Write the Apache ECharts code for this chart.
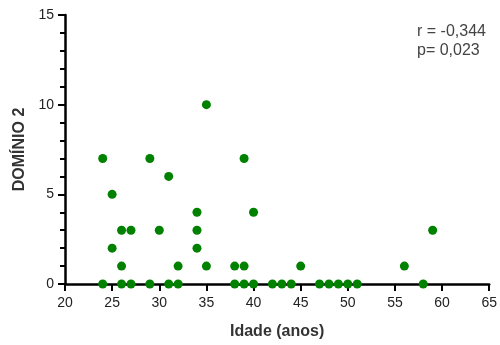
<!DOCTYPE html>
<html>
<head>
<meta charset="utf-8">
<script src="https://cdn.jsdelivr.net/npm/echarts@6/dist/echarts.min.js"></script>
<style>
  html, body { margin: 0; padding: 0; background: #fff; }
  #chart { width: 500px; height: 345px; }
</style>
</head>
<body>
<div id="chart"></div>
<script>
// idade (anos) vs DOMÍNIO 2
const ages = [24, 24, 25, 25, 26, 26, 26, 27, 27, 29, 29, 30, 31, 31, 32, 32,
  34, 34, 34, 35, 35, 38, 38, 39, 39, 39, 40, 40, 42, 43, 44, 45, 47, 48, 49,
  50, 51, 56, 58, 59]
const scores = [7, 0, 5, 2, 3, 1, 0, 3, 0, 7, 0, 3, 6, 0, 1, 0,
  4, 3, 2, 10, 1, 1, 0, 7, 1, 0, 4, 0, 0, 0, 0, 1, 0, 0, 0,
  0, 0, 1, 0, 3]
const xTicks = [20, 25, 30, 35, 40, 45, 50, 55, 60, 65]
const yTicks = [0, 5, 10, 15]
const stats = ['r = -0,344', 'p= 0,023']

const points = ages.map((a, i) => [a, scores[i]])
const chart = echarts.init(document.getElementById('chart'))
const font = 'Liberation Sans, Arial, sans-serif'
const axisStroke = { color: '#000', width: 2.5 }

chart.setOption({
  animation: false,
  grid: { left: 65, right: 7, top: 15, bottom: 58 },
  xAxis: {
    type: 'value',
    min: xTicks[0],
    max: xTicks[xTicks.length - 1],
    interval: 5,
    name: 'Idade (anos)',
    nameLocation: 'middle',
    nameGap: 40,
    nameTextStyle: { color: '#333', fontSize: 16, fontWeight: 'bold', fontFamily: font },
    axisLine: { show: true, lineStyle: axisStroke },
    axisTick: { show: true, length: 7, lineStyle: { color: '#000', width: 2 } },
    axisLabel: { color: '#222', fontSize: 14, fontFamily: font, margin: 12 },
    splitLine: { show: false },
  },
  yAxis: {
    type: 'value',
    min: yTicks[0],
    max: yTicks[yTicks.length - 1],
    interval: 5,
    name: 'DOMÍNIO 2',
    nameLocation: 'middle',
    nameGap: 36,
    nameTextStyle: { color: '#333', fontSize: 16, fontWeight: 'bold', fontFamily: font },
    axisLine: { show: true, lineStyle: axisStroke },
    axisTick: { show: true, length: 7, lineStyle: { color: '#000', width: 2 } },
    minorTick: { show: true, splitNumber: 5, length: 5, lineStyle: { color: '#000', width: 2 } },
    axisLabel: { color: '#222', fontSize: 14, fontFamily: font, margin: 11 },
    splitLine: { show: false },
  },
  graphic: [{
    type: 'text',
    left: 417,
    top: 22,
    style: { text: stats.join('\n'), fill: '#444', fontSize: 16, fontFamily: font, lineHeight: 19 },
  }],
  series: [{
    type: 'scatter',
    data: points,
    symbolSize: 9,
    itemStyle: { color: '#008200', opacity: 1 },
    z: 5,
  }],
})
</script>
</body>
</html>
